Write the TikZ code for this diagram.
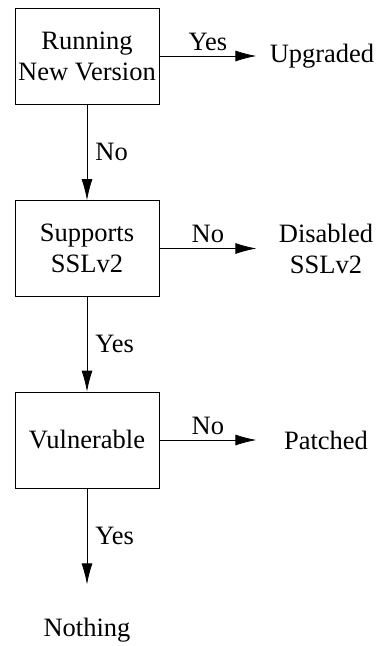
\documentclass[tikz,border=0pt]{standalone}
\usepackage{fontspec}
\setmainfont{Liberation Serif}
\usetikzlibrary{arrows.meta}
\begin{document}
\begin{tikzpicture}[x=1pt,y=-1pt,
  box/.style={draw,line width=0.8pt,minimum width=144pt,minimum height=96pt,inner sep=0pt,align=center,font=\fontsize{26.5}{31}\selectfont},
  lbl/.style={inner sep=0pt,align=center,font=\fontsize{26.5}{31}\selectfont},
  elbl/.style={inner sep=0pt,font=\fontsize{26.5}{31}\selectfont},
  conn/.style={line width=0.8pt,-{Latex[length=21pt,width=11pt]}}]
\useasboundingbox (0,0) rectangle (381,646);
\node[box] (b1) at (87,56) {Running\\New Version};
\node[box] (b2) at (87,248.5) {Supports\\SSLv2};
\node[box] (b3) at (87,440) {Vulnerable};
\node[lbl] (up) at (322,56) {Upgraded};
\node[lbl] (dis) at (326,248.5) {Disabled\\SSLv2};
\node[lbl] (pat) at (326,440) {Patched};
\node[lbl] (not) at (87,630) {Nothing};
\draw[conn] (b1.east) -- node[elbl,above=5pt] {Yes} ++(97,0) coordinate (e1);
\draw[conn] (b1) -- node[elbl,right=8pt] {No} (b2);
\draw[conn] (b2.east) -- node[elbl,above=5pt] {No} ++(97,0) coordinate (e2);
\draw[conn] (b2) -- node[elbl,right=8pt] {Yes} (b3);
\draw[conn] (b3.east) -- node[elbl,above=5pt] {No} ++(97,0) coordinate (e3);
\draw[conn] (b3.south) -- node[elbl,right=8pt] {Yes} ++(0,96) coordinate (e4);
\end{tikzpicture}
\end{document}
